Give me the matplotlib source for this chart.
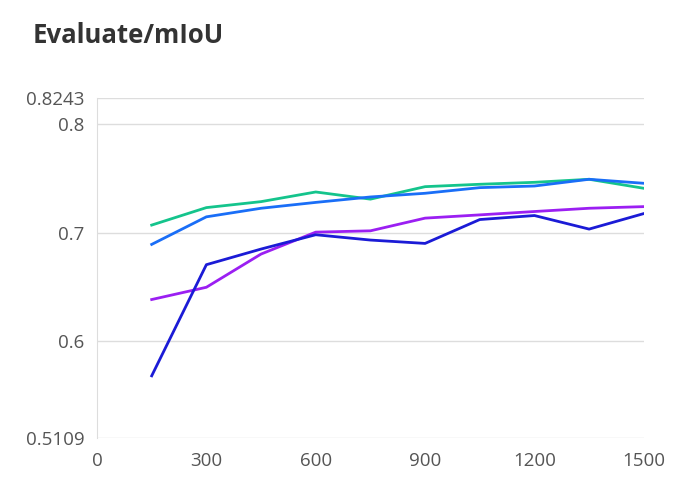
import matplotlib.pyplot as plt

# evaluation steps
steps = [150, 300, 450, 600, 750, 900, 1050, 1200, 1350, 1500]

# mIoU per run
run_green = [0.7071, 0.7232, 0.7287, 0.7376, 0.7310, 0.7425, 0.7447, 0.7465, 0.7493, 0.7410]
run_blue = [0.6893, 0.7147, 0.7226, 0.7280, 0.7330, 0.7364, 0.7416, 0.7431, 0.7493, 0.7456]
run_purple = [0.6385, 0.6498, 0.6804, 0.7006, 0.7018, 0.7135, 0.7165, 0.7196, 0.7226, 0.7241]
run_navy = [0.5682, 0.6706, 0.6850, 0.6982, 0.6933, 0.6902, 0.7122, 0.7159, 0.7034, 0.7177]

y_ticks = [0.5109, 0.6, 0.7, 0.8, 0.8243]
y_labels = ["0.5109", "0.6", "0.7", "0.8", "0.8243"]
x_ticks = [0, 300, 600, 900, 1200, 1500]

plt.rcParams['font.family'] = ['Open Sans', 'DejaVu Sans']

fig = plt.figure(figsize=(6.93, 4.87), dpi=100)
ax = fig.add_axes([0.14, 0.1006, 0.789, 0.6984])

ax.plot(steps, run_green, color='#14c48c', lw=2)
ax.plot(steps, run_blue, color='#1a6ef7', lw=2)
ax.plot(steps, run_purple, color='#9b1ff2', lw=2)
ax.plot(steps, run_navy, color='#1b1bd6', lw=2)

ax.set_xlim(0, 1500)
ax.set_ylim(0.5109, 0.8243)
ax.set_yticks(y_ticks)
ax.set_yticklabels(y_labels)
ax.set_xticks(x_ticks)
ax.grid(axis='y', color='#dddddd', lw=1)
ax.set_axisbelow(True)
for s in ['top', 'right', 'bottom']:
    ax.spines[s].set_visible(False)
ax.spines['left'].set_color('#dddddd')
ax.tick_params(length=0, labelsize=13.5, labelcolor='#555555')
ax.tick_params(axis='y', pad=9)
ax.tick_params(axis='x', pad=10)

fig.text(0.047, 0.928, "Evaluate/mIoU", fontsize=18.5, fontweight='bold',
         color='#333333', va='center')

fig.savefig('out.png', dpi=100)
